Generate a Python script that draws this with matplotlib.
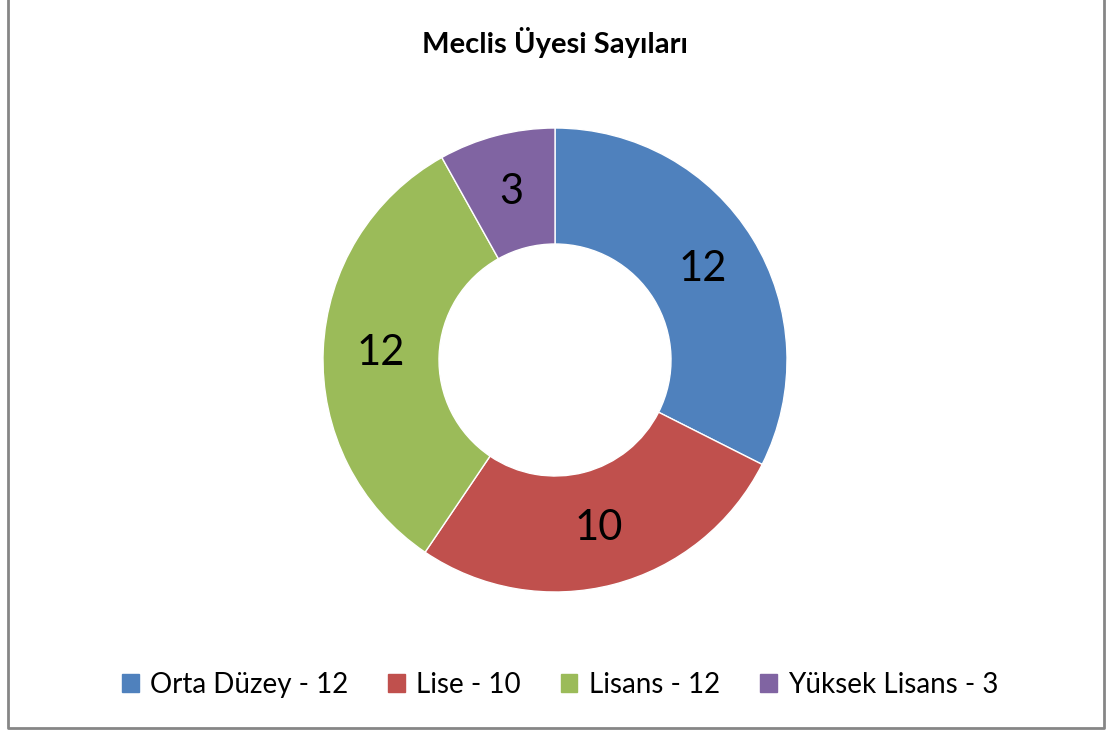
import matplotlib.pyplot as plt
from matplotlib.patches import Rectangle
from matplotlib.lines import Line2D

# === Дані ===
categories = ["Orta Düzey", "Lise", "Lisans", "Yüksek Lisans"]
values = [12, 10, 12, 3]
colors = ["#4F81BD", "#C0504D", "#9BBB59", "#8064A2"]

plt.rcParams['font.family'] = ['Lato', 'DejaVu Sans']

W, H = 1108, 731
fig = plt.figure(figsize=(W / 100, H / 100), dpi=100)

# рамка (без верхньої лінії)
x0, x1, yb = 7.5 / W, 1103.5 / W, 1 - 728 / H
fig.lines.append(Line2D([x0, x0, x1, x1], [1.0, yb, yb, 1.0], transform=fig.transFigure,
                        color="#868686", linewidth=2))

# === Кільцева діаграма ===
cx, cy, r = 555, 360, 232
ax = fig.add_axes([(cx - r) / W, (H - cy - r) / H, 2 * r / W, 2 * r / H])
wedges, texts = ax.pie(values, colors=colors, startangle=90, counterclock=False,
                       radius=1, labels=[str(v) for v in values], labeldistance=0.75,
                       wedgeprops=dict(width=0.5, edgecolor="white", linewidth=1),
                       textprops=dict(fontsize=30, color="black", ha="center", va="center"))
ax.set_xlim(-1, 1)
ax.set_ylim(-1, 1)
ax.set_aspect("equal")
ax.axis("off")

fig.text(cx / W, 1 - 42 / H, "Meclis Üyesi Sayıları", ha="center", va="center",
         fontsize=21, fontweight="bold")

handles = [Rectangle((0, 0), 1, 1, color=c) for c in colors]
labels = [f"{c} - {v}" for c, v in zip(categories, values)]
fig.legend(handles, labels, loc="center", bbox_to_anchor=(560 / W, 1 - 685 / H), ncol=4,
           frameon=False, fontsize=20, handlelength=0.6, handleheight=0.6,
           handletextpad=0.4, columnspacing=1.45)

fig.savefig("out.png", dpi=100)
